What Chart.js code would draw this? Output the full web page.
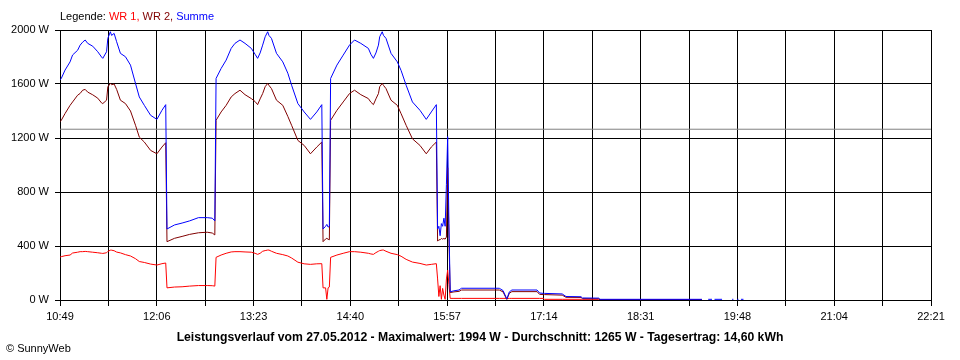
<!DOCTYPE html>
<html>
<head>
<meta charset="utf-8">
<title>Leistungsverlauf</title>
<script src="https://cdn.jsdelivr.net/npm/chart.js@4.4.1/dist/chart.umd.min.js"></script>
<style>
  html,body{margin:0;padding:0;background:#fff;}
  canvas{display:block;}
</style>
</head>
<body>
<canvas id="chart" width="960" height="360"></canvas>
<script>
// ---- data ----
const times=[
  '10:49','10:50','10:53','10:57','10:59','11:03','11:05','11:07','11:09','11:11',
  '11:15','11:19','11:22','11:23','11:26','11:27','11:29','11:30','11:32','11:34',
  '11:37','11:41','11:45','11:49','11:52','11:56','12:01','12:06','12:10','12:13',
  '12:14','12:20','12:26','12:32','12:39','12:46','12:50','12:52','12:53','12:57',
  '13:01','13:05','13:08','13:12','13:16','13:21','13:24','13:26','13:28','13:30',
  '13:32','13:34','13:35','13:37','13:41','13:46','13:50','13:53','13:58','14:03',
  '14:08','14:13','14:17','14:18','14:20','14:21','14:22','14:23','14:24','14:29',
  '14:34','14:39','14:43','14:48','14:54','14:56','14:58','15:00','15:02','15:03',
  '15:05','15:06','15:08','15:12','15:17','15:20','15:24','15:29','15:35','15:40',
  '15:44','15:48','15:49','15:50','15:51','15:52','15:53','15:54','15:55','15:56',
  '15:57','15:58','15:59','16:02','16:06','16:08','16:38','16:41','16:44','16:46',
  '16:48','17:08','17:10','17:13','17:14','17:28','17:31','17:43','17:44','17:57',
  '17:58','19:19','19:21','19:24','19:27','19:28','19:29','19:35','19:37','19:43',
  '19:44','19:45','19:47','19:48','19:49','19:50','19:52'
];
const summe=[
  1630,1641,1703,1764,1815,1850,1888,1910,1926,1901,
  1880,1839,1800,1790,1839,1938,1987,1960,1975,1913,
  1827,1802,1740,1604,1504,1442,1368,1338,1405,1447,
  526,556,570,586,610,610,606,586,1641,1715,
  1777,1864,1901,1926,1901,1864,1820,1790,1830,1888,
  1950,1987,1960,1938,1827,1764,1680,1591,1455,1393,
  1338,1393,1447,526,546,560,540,546,1641,1740,
  1814,1888,1926,1901,1864,1820,1790,1830,1888,1950,
  1987,1960,1938,1827,1764,1700,1591,1467,1405,1338,
  1393,1447,526,546,476,566,546,606,546,854,
  1210,566,61,68,74,87,87,70,8,60,
  74,74,52,49,49,45,26,24,15,14,
  5,5,null,5,5,null,5,5,null,5,
  5,null,5,5,null,5,5
];
const wr2=[
  1320,1331,1381,1442,1467,1517,1530,1554,1560,1540,
  1520,1495,1460,1455,1480,1579,1604,1595,1600,1560,
  1480,1455,1400,1294,1207,1170,1108,1083,1133,1165,
  432,457,471,486,498,502,496,482,1331,1393,
  1442,1504,1529,1554,1521,1492,1470,1447,1490,1529,
  1580,1604,1590,1566,1480,1442,1360,1294,1182,1145,
  1083,1133,1170,432,452,457,450,446,1331,1405,
  1467,1529,1554,1521,1492,1465,1447,1490,1529,1580,
  1604,1590,1566,1480,1442,1380,1294,1194,1145,1083,
  1133,1170,436,446,446,456,451,456,451,466,
  980,456,55,60,64,74,74,60,4,50,
  62,62,42,40,40,36,20,19,10,9,
  2,2
];
const wr1=[
  318,321,328,333,348,354,358,358,360,358,
  354,350,346,345,350,360,369,369,365,355,
  349,336,326,306,285,278,266,259,269,274,
  90,96,98,103,107,107,106,103,316,333,
  346,356,358,358,356,354,346,338,346,361,
  366,370,370,361,346,336,326,311,280,268,
  264,268,269,90,90,5,90,96,316,333,
  346,358,358,354,346,341,338,351,361,366,
  370,370,361,346,336,324,301,281,271,259,
  264,269,156,26,106,5,86,36,5,156,
  222,116,12,12,12,12,12,12,12,12,
  12,12,12,12,5,5,5,5,5,5,
  3,3
];
const xTickLabels=['10:49','12:06','13:23','14:40','15:57','17:14','18:31','19:48','21:04','22:21'];
const yMax=2000;
const yStep=400;
const average=1265;
const legendParts=[['Legende: ','#000000'],['WR 1, ','#ff0000'],['WR 2, ','#800000'],['Summe','#0000ff']];
const titleText='Leistungsverlauf vom 27.05.2012 - Maximalwert: 1994 W - Durchschnitt: 1265 W - Tagesertrag: 14,60 kWh';
const footerText='\u00a9 SunnyWeb';

const FONT='"Liberation Sans", Arial, sans-serif';
const toMin=t=>{const p=t.split(':');return (+p[0])*60+(+p[1]);};
const xMin=toMin(xTickLabels[0]);
const xMax=toMin(xTickLabels[xTickLabels.length-1]);
const gridSteps=(xTickLabels.length-1)*2;
const pts=arr=>arr.map((v,i)=>({x:toMin(times[i]),y:v}));

// texts around the plot: legend line, bottom title, copyright
const textPlugin={
  id:'texts',
  afterDraw(chart){
    const ctx=chart.ctx;
    ctx.save();
    ctx.textBaseline='alphabetic';
    ctx.textAlign='left';
    ctx.font='11px '+FONT;
    let x=60;
    legendParts.forEach(([txt,col])=>{
      ctx.fillStyle=col;
      ctx.fillText(txt,x,20);
      x+=ctx.measureText(txt).width;
    });
    ctx.fillStyle='#000';
    ctx.fillText(footerText,6,352);
    // bold title, sized to the width of the original line
    let size=12;
    ctx.font='bold '+size+'px '+FONT;
    const w=ctx.measureText(titleText).width;
    size=Math.min(13,size*607/w);
    ctx.font='bold '+size.toFixed(2)+'px '+FONT;
    ctx.textAlign='center';
    ctx.fillText(titleText,480,341);
    ctx.restore();
  }
};

const line=(data,color,order)=>({
  data,borderColor:color,borderWidth:1,pointRadius:0,tension:0,
  fill:false,spanGaps:false,order
});

new Chart(document.getElementById('chart'),{
  type:'line',
  data:{
    datasets:[
      line(pts(summe),'#0000ff',0),
      line(pts(wr2),'#800000',1),
      line(pts(wr1),'#ff0000',2),
      line([{x:xMin,y:average},{x:xMax,y:average}],'#808080',3)
    ]
  },
  options:{
    responsive:false,
    devicePixelRatio:1,
    animation:false,
    events:[],
    layout:{padding:{top:30,right:29,left:0,bottom:0}},
    plugins:{legend:{display:false},tooltip:{enabled:false}},
    scales:{
      x:{
        type:'linear',min:xMin,max:xMax,
        afterBuildTicks:s=>{
          s.ticks=[];
          for(let i=0;i<=gridSteps;i++)s.ticks.push({value:xMin+i*(xMax-xMin)/gridSteps});
        },
        afterFit:s=>{s.height=60;},
        grid:{color:'#000',lineWidth:1,tickLength:6},
        border:{color:'#000'},
        ticks:{
          autoSkip:false,maxRotation:0,minRotation:0,padding:4,color:'#000',
          font:{family:FONT,size:11},
          callback:(v,i)=>i%2===0?xTickLabels[i/2]:''
        }
      },
      y:{
        min:0,max:yMax,
        afterFit:s=>{s.width=60;},
        grid:{color:'#000',lineWidth:1,tickLength:5},
        border:{color:'#000'},
        ticks:{
          stepSize:yStep,padding:6,color:'#000',
          font:{family:FONT,size:11},
          callback:v=>v+' W'
        }
      }
    }
  },
  plugins:[textPlugin]
});
</script>
</body>
</html>
